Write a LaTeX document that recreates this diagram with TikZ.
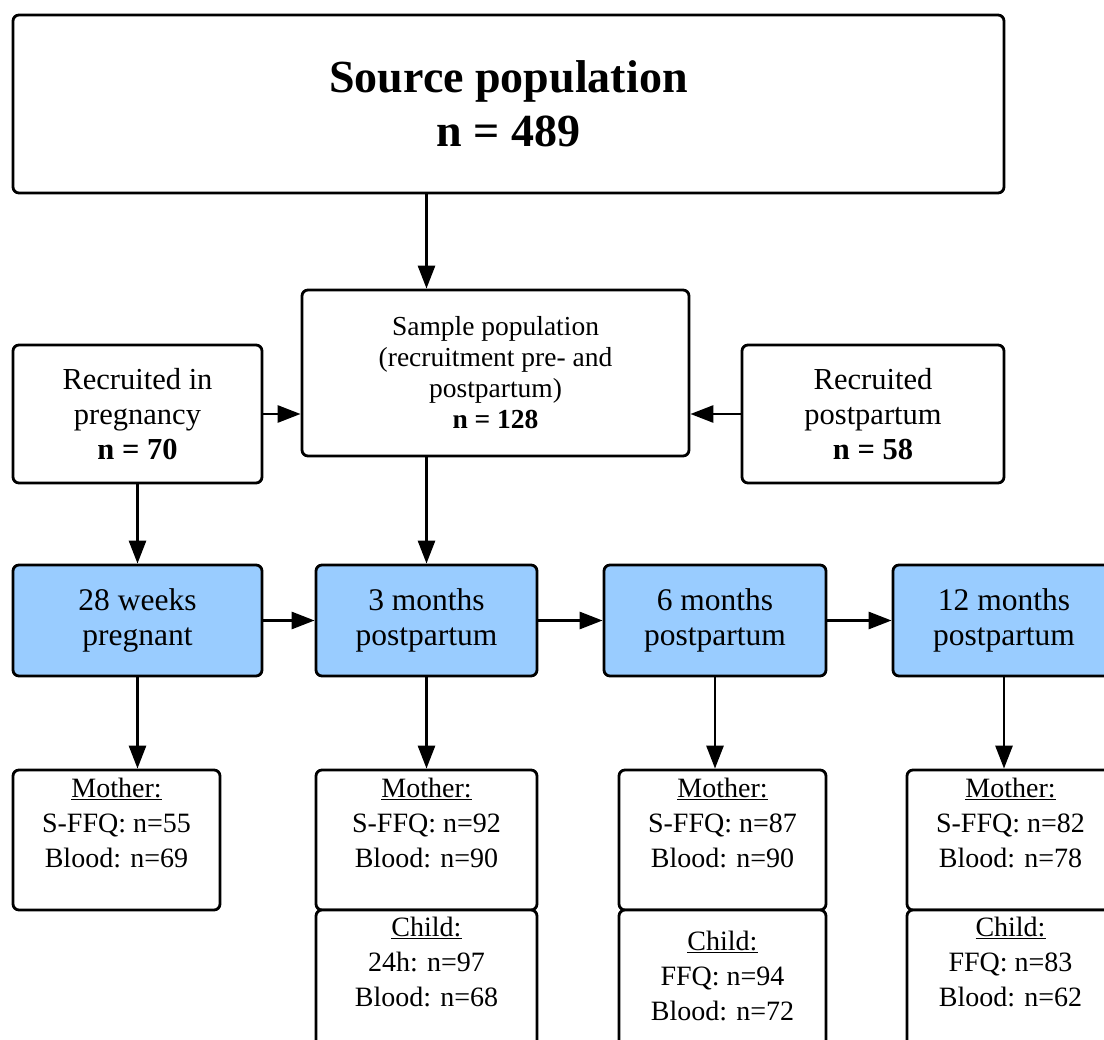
\documentclass[tikz,border=0pt]{standalone}
\usepackage{fontspec}
\setmainfont{Liberation Serif}
\usetikzlibrary{arrows.meta}
\definecolor{boxblue}{RGB}{153,204,255}
\begin{document}
\begin{tikzpicture}[x=1pt,y=-1pt,
  box/.style={draw, line width=2.8pt, rounded corners=6pt, fill=white, inner sep=0pt, align=center},
  bluebox/.style={box, fill=boxblue},
  arr/.style={line width=2.8pt, -{Triangle[length=23pt,width=17pt]}},
  body/.style={font=\fontsize{30.5}{35}\selectfont},
  blueft/.style={font=\fontsize{31.5}{35}\selectfont},
  small/.style={font=\fontsize{27.5}{31}\selectfont},
  title/.style={font=\fontsize{46}{54}\selectfont\bfseries},
  txt/.style={inner sep=0pt, align=center, font=\fontsize{28}{35}\selectfont}
]
\useasboundingbox (0,0) rectangle (1104,1040);
\clip (0,0) rectangle (1104,1040);
\fill[white] (0,0) rectangle (1104,1040);

% top levels
\node[box, title, minimum width=991pt, minimum height=178pt] (src) at (508.5,104) {Source population\\n = 489};
\node[box, small, minimum width=387pt, minimum height=166pt] (samp) at (495.5,373) {Sample population\\(recruitment pre- and\\postpartum)\\\textbf{n = 128}};
\node[box, body, minimum width=249pt, minimum height=138pt] (recp) at (137.5,414) {Recruited in\\pregnancy\\\textbf{n = 70}};
\node[box, body, minimum width=262pt, minimum height=138pt] (recpp) at (873,414) {Recruited\\postpartum\\\textbf{n = 58}};

% time points
\node[bluebox, blueft, minimum width=249pt, minimum height=111pt] (b1) at (137.5,620.5) {28 weeks\\pregnant};
\node[bluebox, blueft, minimum width=221pt, minimum height=111pt] (b2) at (426.5,620.5) {3 months\\postpartum};
\node[bluebox, blueft, minimum width=222pt, minimum height=111pt] (b3) at (715,620.5) {6 months\\postpartum};
\node[bluebox, blueft, minimum width=222pt, minimum height=111pt] (b4) at (1004,620.5) {12 months\\postpartum};

% mother boxes
\node[box, minimum width=207pt, minimum height=140pt] (m1) at (116.5,840) {};
\node[box, minimum width=221pt, minimum height=140pt] (m2) at (426.5,840) {};
\node[box, minimum width=207pt, minimum height=140pt] (m3) at (722.5,840) {};
\node[box, minimum width=207pt, minimum height=140pt] (m4) at (1010.5,840) {};
% child boxes
\node[box, minimum width=221pt, minimum height=150pt] (c2) at (426.5,985) {};
\node[box, minimum width=207pt, minimum height=150pt] (c3) at (722.5,985) {};
\node[box, minimum width=207pt, minimum height=150pt] (c4) at (1010.5,985) {};

\node[txt, anchor=north] (m1t) at ([yshift=-9pt]m1.north) {\underline{Mother:}\\S-FFQ: n=55\\Blood: n=69};
\node[txt, anchor=north] (m2t) at ([yshift=-9pt]m2.north) {\underline{Mother:}\\S-FFQ: n=92\\Blood: n=90};
\node[txt, anchor=north] (m3t) at ([yshift=-9pt]m3.north) {\underline{Mother:}\\S-FFQ: n=87\\Blood: n=90};
\node[txt, anchor=north] (m4t) at ([yshift=-9pt]m4.north) {\underline{Mother:}\\S-FFQ: n=82\\Blood: n=78};
\node[txt, anchor=north] (c2t) at ([yshift=-8pt]c2.north) {\underline{Child:}\\24h: n=97\\Blood: n=68};
\node[txt, anchor=north] (c3t) at ([yshift=-22pt]c3.north) {\underline{Child:}\\FFQ: n=94\\Blood: n=72};
\node[txt, anchor=north] (c4t) at ([yshift=-8pt]c4.north) {\underline{Child:}\\FFQ: n=83\\Blood: n=62};

% connectors
\draw[arr] (src.south -| b2) -- (samp.north -| b2);
\draw[arr] (recp.east) -- (recp.east -| samp.west);
\draw[arr] (recpp.west) -- (recpp.west -| samp.east);
\draw[arr] (recp.south) -- (b1.north);
\draw[arr] (samp.south -| b2) -- (b2.north);
\draw[arr] (b1.east) -- (b2.west);
\draw[arr] (b2.east) -- (b3.west);
\draw[arr] (b3.east) -- (b4.west);
\draw[arr] (b1.south) -- (b1.south |- m1.north);
\draw[arr] (b2.south) -- (m2.north);
\draw[arr] (b3.south) -- (b3.south |- m3.north);
\draw[arr] (b4.south) -- (b4.south |- m4.north);
\end{tikzpicture}
\end{document}
